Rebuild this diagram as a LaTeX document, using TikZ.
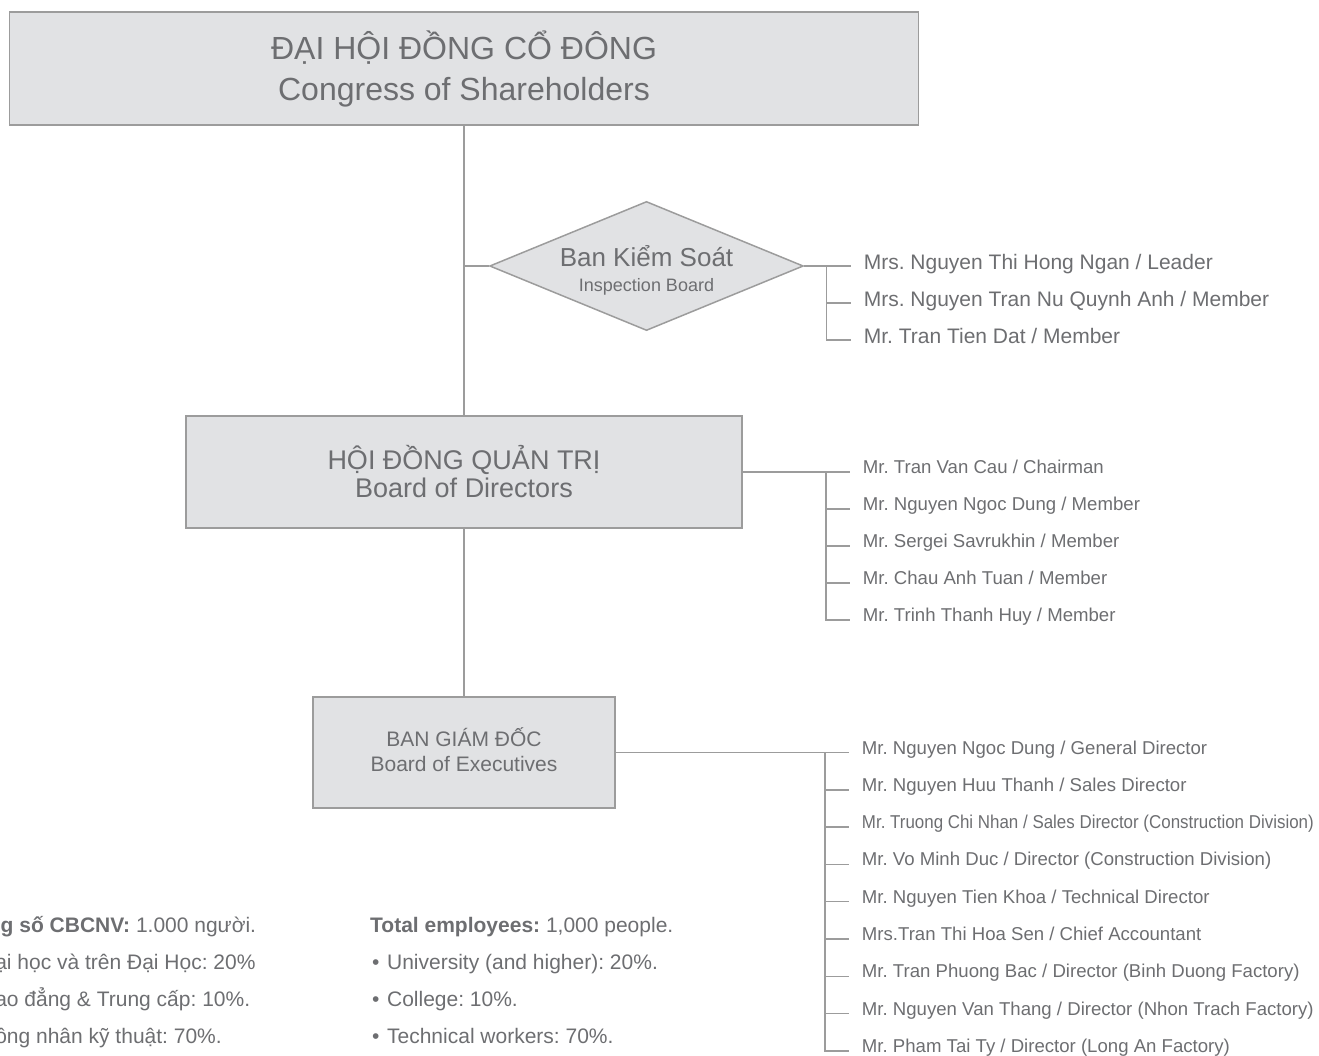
\documentclass[tikz,border=0pt]{standalone}
\usepackage{fontspec}
\setmainfont{Liberation Sans}
\newfontfamily\tightfont[FakeStretch=0.91]{Liberation Sans}
\usetikzlibrary{shapes.geometric, calc}

\definecolor{boxfill}{HTML}{E1E2E4}
\definecolor{boxline}{HTML}{9C9C9C}
\definecolor{inktext}{HTML}{6D6E71}

\begin{document}
\frenchspacing
\begin{tikzpicture}[x=1pt, y=-1pt,
    unit/.style={draw=boxline, fill=boxfill, line width=1.5pt, text=inktext,
      align=center, inner sep=0pt},
    link/.style={draw=boxline, line width=1.5pt},
    member/.style={text=inktext, inner sep=0pt, anchor=base west},
    note/.style={text=inktext, inner sep=0pt, anchor=base west,
      font=\fontsize{21}{24}\selectfont}]
    \useasboundingbox (0,0) rectangle (1319,1055);
    \clip (0,0) rectangle (1319,1055);

    \node[unit, minimum width=909pt, minimum height=113pt,
      font=\fontsize{32}{41}\selectfont] (agm) at (464,68.5)
      {ĐẠI HỘI ĐỒNG CỔ ĐÔNG\\Congress of Shareholders};
    \node[unit, minimum width=556pt, minimum height=112pt,
      font=\fontsize{27}{28}\selectfont] (bod) at (464,472)
      {HỘI ĐỒNG QUẢN TRỊ\\Board of Directors};
    \node[unit, minimum width=302pt, minimum height=111pt,
      font=\fontsize{21}{25}\selectfont] (bgd) at (464,752.5)
      {BAN GIÁM ĐỐC\\Board of Executives\rule[-5pt]{0pt}{5pt}};
    \node[unit, diamond, aspect=2.43, minimum width=311pt, minimum height=128pt,
      font=\fontsize{18}{25}\selectfont] (ban) at (646.5,266)
      {{\fontsize{26}{25}\selectfont\rule{0pt}{29pt}Ban Kiểm Soát}\\Inspection Board};

    \draw[link] (agm.south) -- (bod.north);
    \draw[link] (bod.south) -- (bgd.north);
    \draw[link] (ban.west) -- (ban.west -| agm.south);

    % members
    \foreach \name [count=\i] in {Mrs. Nguyen Thi Hong Ngan / Leader,
      Mrs. Nguyen Tran Nu Quynh Anh / Member, Mr. Tran Tien Dat / Member}
      \node[member, font=\fontsize{21}{24}\selectfont] (bksm\i)
        at ($(ban.east)+({59.5},{3+37*(\i-1)})$) {\name};

    \foreach \name [count=\i] in {Mr. Tran Van Cau / Chairman,
      Mr. Nguyen Ngoc Dung / Member, Mr. Sergei Savrukhin / Member,
      Mr. Chau Anh Tuan / Member, Mr. Trinh Thanh Huy / Member}
      \node[member, font=\fontsize{18.6}{22}\selectfont] (hdqtm\i)
        at ($(bod.east)+({120},{1.5+37*(\i-1)})$) {\name};

    \foreach \name [count=\i] in {Mr. Nguyen Ngoc Dung / General Director,
      Mr. Nguyen Huu Thanh / Sales Director,
      {{\tightfont Mr. Truong Chi Nhan / Sales Director (Construction Division)}},
      Mr. Vo Minh Duc / Director (Construction Division),
      Mr. Nguyen Tien Khoa / Technical Director,
      Mrs.Tran Thi Hoa Sen / Chief Accountant,
      Mr. Tran Phuong Bac / Director (Binh Duong Factory),
      Mr. Nguyen Van Thang / Director (Nhon Trach Factory),
      Mr. Pham Tai Ty / Director (Long An Factory)}
      \node[member, font=\fontsize{18.6}{22}\selectfont] (bgdm\i)
        at ($(bgd.east)+({246},{1.5+37.3*(\i-1)})$) {\name};

    \draw[link] (ban.east) -- ($(bksm1.base west)+(-13,-3)$);
    \draw[link] ($(bksm1.base west)+(-37,-3)$) |- ($(bksm3.base west)+(-13,-3)$);
    \draw[link] ($(bksm2.base west)+(-37,-3)$) -- ($(bksm2.base west)+(-13,-3)$);

    \draw[link] (bod.east) -- ($(hdqtm1.base west)+(-13,-1.5)$);
    \draw[link] ($(hdqtm1.base west)+(-37,-1.5)$) |- ($(hdqtm5.base west)+(-13,-1.5)$);
    \foreach \i in {2,...,4}{
      \draw[link] ($(hdqtm\i.base west)+(-37,-1.5)$) --
      ($(hdqtm\i.base west)+(-13,-1.5)$);
    }

    \draw[link] (bgd.east) -- ($(bgdm1.base west)+(-13,-1.5)$);
    \draw[link] ($(bgdm1.base west)+(-37,-1.5)$) |- ($(bgdm9.base west)+(-13,-1.5)$);
    \foreach \i in {2,...,8}{
      \draw[link] ($(bgdm\i.base west)+(-37,-1.5)$) --
      ($(bgdm\i.base west)+(-13,-1.5)$);
    }

    % staff figures
    \node[note] (staffvn) at (-38,932.5) {\textbf{Tổng số CBCNV:} 1.000 người.};
    \node[note] (eduvn1) at ($(staffvn.base west)+(3,37)$)
      {•\hspace{0.36em}Đại học và trên Đại Học: 20\%};
    \node[note] (eduvn2) at ($(eduvn1.base west)+(0,37)$)
      {•\hspace{0.36em}Cao đẳng \& Trung cấp: 10\%.};
    \node[note] (eduvn3) at ($(eduvn2.base west)+(0,37)$)
      {•\hspace{0.36em}Công nhân kỹ thuật: 70\%.};

    \node[note] (staffen) at (370,932.5) {\textbf{Total employees:} 1,000 people.};
    \node[note] (eduen1) at ($(staffen.base west)+(2,37)$)
      {•\hspace{0.36em}University (and higher): 20\%.};
    \node[note] (eduen2) at ($(eduen1.base west)+(0,37)$)
      {•\hspace{0.36em}College: 10\%.};
    \node[note] (eduen3) at ($(eduen2.base west)+(0,37)$)
      {•\hspace{0.36em}Technical workers: 70\%.};
\end{tikzpicture}
\end{document}
